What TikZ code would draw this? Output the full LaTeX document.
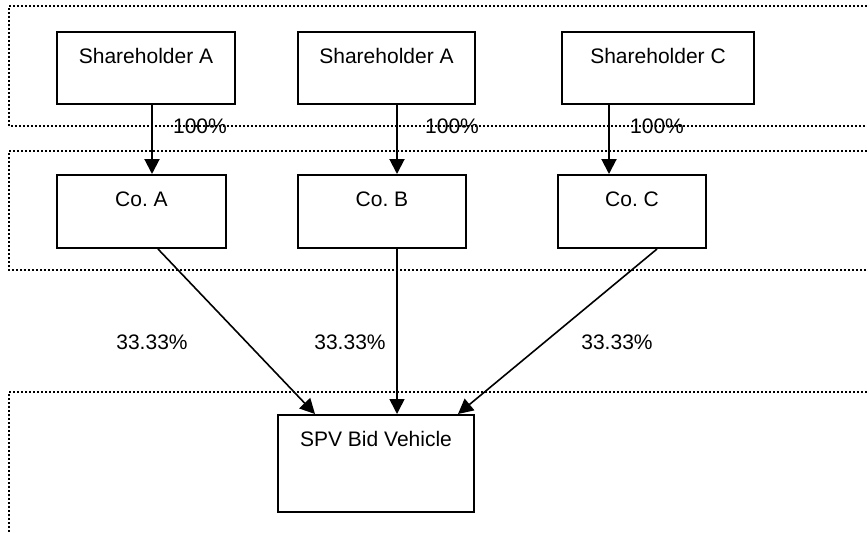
\documentclass[tikz,border=0pt]{standalone}
\usepackage{fontspec}
\setmainfont{Liberation Sans}
\usetikzlibrary{arrows.meta,calc}
\frenchspacing
\begin{document}
\begin{tikzpicture}[x=1pt,y=-1pt,
  font=\fontsize{21}{25}\selectfont\frenchspacing,
  region/.style={line width=1.8pt,dash pattern=on 1.8pt off 2.2pt},
  entity/.style={draw,line width=2pt,anchor=north west,inner xsep=0pt,inner ysep=0pt,
    text height=31.5pt,text depth=40.5pt},
  spvbox/.style={entity,text depth=65.5pt},
  own/.style={line width=2pt,-{Triangle[length=15pt,width=15pt]}},
  share/.style={line width=1.6pt,-{Triangle[length=15pt,width=15pt]}},
  pct/.style={inner sep=0pt}]
\useasboundingbox (0,0) rectangle (867,533);
% regions
\draw[region] (867,6) -- (9,6) -- (9,126) -- (867,126);
\draw[region] (867,151) -- (9,151) -- (9,270) -- (867,270);
\draw[region] (867,392) -- (9,392) -- (9,533);
% boxes
\node[entity,minimum width=178pt] (sh1) at (56,31) {Shareholder A};
\node[entity,minimum width=177pt] (sh2) at (297,31) {Shareholder A};
\node[entity,minimum width=192pt] (sh3) at (561,31) {Shareholder C\hspace{14pt}};
\node[entity,minimum width=169pt,text depth=41.5pt] (co1) at (56,174) {Co. A};
\node[entity,minimum width=168pt,text depth=41.5pt] (co2) at (297,174) {Co. B};
\node[entity,minimum width=148pt,text depth=41.5pt] (co3) at (557,174) {Co. C};
\node[spvbox,minimum width=196pt] (spv) at (277,414) {SPV Bid Vehicle};
% ownership arrows
\draw[own] ([xshift=96pt]sh1.south west) -- ([xshift=96pt]sh1.south west |- co1.north);
\draw[own] ([xshift=100pt]sh2.south west) -- ([xshift=100pt]sh2.south west |- co2.north);
\draw[own] ([xshift=48pt]sh3.south west) -- ([xshift=48pt]sh3.south west |- co3.north);
\draw[share] ([xshift=102pt]co1.south west) -- ([xshift=38pt]spv.north west);
\draw[share] ([xshift=100pt]co2.south west) -- ([xshift=120pt]spv.north west);
\draw[share] ([xshift=100pt]co3.south west) -- ([xshift=181pt]spv.north west);
% labels
\node[pct] (p1) at (200,126) {100\%};
\node[pct] (p2) at (452,126) {100\%};
\node[pct] (p3) at (657,126) {100\%};
\node[pct] (q1) at (152,342) {33.33\%};
\node[pct] (q2) at (350,342) {33.33\%};
\node[pct] (q3) at (617,342) {33.33\%};
\end{tikzpicture}
\end{document}
